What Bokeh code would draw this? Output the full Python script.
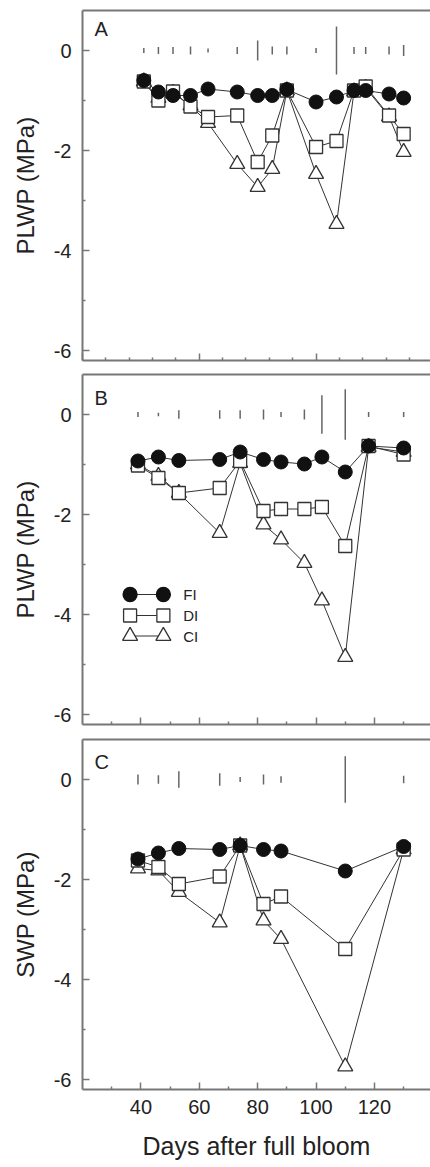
from bokeh.plotting import figure
from bokeh.models import LinearAxis, FixedTicker, Range1d, Label
from bokeh.layouts import column
from bokeh.embed import file_html
from bokeh.resources import INLINE
from bokeh.core.properties import value

# ---------------- data ----------------
series_names = ["FI", "DI", "CI"]

days_a = [41, 46, 51, 57, 63, 73, 80, 85, 90, 100, 107, 113, 117, 125, 130]
fi_a = [-0.60, -0.83, -0.90, -0.90, -0.77, -0.83, -0.90, -0.90, -0.78, -1.03, -0.93, -0.80, -0.80, -0.87, -0.95]
di_a = [-0.62, -1.00, -0.82, -1.12, -1.33, -1.30, -2.23, -1.70, -0.80, -1.93, -1.81, -0.80, -0.72, -1.30, -1.67]
ci_a = [-0.62, -0.95, -0.85, -1.10, -1.45, -2.27, -2.73, -2.37, -0.80, -2.47, -3.47, -0.82, -0.75, -1.32, -2.03]
lsd_a = [0.10, 0.14, 0.14, 0.16, 0.08, 0.14, 0.40, 0.16, 0.16, 0.10, 0.96, 0.14, 0.14, 0.16, 0.22]

days_b = [39, 46, 53, 67, 74, 82, 88, 96, 102, 110, 118, 130]
fi_b = [-0.93, -0.85, -0.92, -0.90, -0.75, -0.90, -0.95, -0.99, -0.85, -1.15, -0.63, -0.67]
di_b = [-1.02, -1.27, -1.57, -1.47, -0.93, -1.93, -1.89, -1.89, -1.85, -2.63, -0.63, -0.80]
ci_b = [-1.00, -1.23, -1.57, -2.37, -0.97, -2.20, -2.50, -2.97, -3.72, -4.85, -0.65, -0.75]
lsd_b = [0.10, 0.07, 0.17, 0.17, 0.17, 0.20, 0.10, 0.20, 0.77, 1.01, 0.10, 0.10]

days_c = [39, 46, 53, 67, 74, 82, 88, 110, 130]
fi_c = [-1.59, -1.47, -1.38, -1.40, -1.32, -1.40, -1.43, -1.83, -1.34]
di_c = [-1.62, -1.75, -2.09, -1.94, -1.32, -2.49, -2.34, -3.39, -1.40]
ci_c = [-1.78, -1.82, -2.25, -2.86, -1.32, -2.82, -3.19, -5.74, -1.40]
lsd_c = [0.20, 0.17, 0.33, 0.25, 0.10, 0.20, 0.13, 0.93, 0.15]

y_ticks = [0, -2, -4, -6]
y_minor = [-1, -3, -5]
x_ticks_a = [20, 60, 100]
x_minor_a = [28, 36, 44, 52, 68, 76, 84, 92, 108, 116, 124, 132]
x_ticks = [40, 60, 80, 100, 120]
x_minor = [30, 50, 70, 90, 110, 130]

# ---------------- style ----------------
FONT = "Liberation Sans"
AX = "#777777"
INK = "#333333"
TXT = "#222222"
W = 430


def panel(days, fi, di, ci, lsd, letter, letter_y, ylabel, height, top, bottom,
          xt, xm, show_x):
    p = figure(width=W, height=height, x_range=Range1d(20, 139.2),
               y_range=Range1d(-6.2, 0.8), output_backend="svg",
               toolbar_location=None, min_border_left=82, min_border_right=0,
               min_border_top=top, min_border_bottom=bottom)
    p.grid.visible = False
    p.outline_line_color = None

    ya = p.yaxis[0]
    ya.ticker = FixedTicker(ticks=y_ticks, minor_ticks=y_minor)
    ya.major_label_overrides = {t: str(t) for t in y_ticks}
    xa = p.xaxis[0]
    xa.ticker = FixedTicker(ticks=xt, minor_ticks=xm)
    for ax in (xa, ya):
        ax.axis_line_color = AX
        ax.axis_line_width = 2
        ax.major_tick_line_color = AX
        ax.minor_tick_line_color = AX
        ax.major_tick_line_width = 1.5
        ax.minor_tick_line_width = 1.5
        ax.major_tick_in = 7
        ax.major_tick_out = 0
        ax.minor_tick_in = 3
        ax.minor_tick_out = 0
        ax.major_label_text_font = FONT
        ax.major_label_text_font_size = "20px"
        ax.major_label_text_color = TXT
        ax.axis_label_text_font = FONT
        ax.axis_label_text_font_style = "normal"
        ax.axis_label_text_font_size = "24px"
        ax.axis_label_text_color = TXT
    ya.major_label_standoff = 11
    ya.axis_label = ylabel
    ya.axis_label_standoff = 12
    if show_x:
        xa.major_label_standoff = 10
        xa.axis_label = "Days after full bloom"
        xa.axis_label_text_font_size = "25px"
        xa.axis_label_standoff = 15
    else:
        xa.major_label_text_color = None
        xa.major_label_standoff = 0

    topax = LinearAxis(ticker=FixedTicker(ticks=[]), axis_line_color=AX,
                       axis_line_width=2, major_label_standoff=0,
                       major_label_text_color=None,
                       major_tick_in=0, major_tick_out=0,
                       minor_tick_in=0, minor_tick_out=0)
    p.add_layout(topax, "above")

    # LSD bars centred on zero
    p.segment(x0=days, x1=days, y0=[-v / 2 for v in lsd], y1=[v / 2 for v in lsd],
              line_color="#666666", line_width=1.5)

    for ys in (ci, di, fi):
        p.line(days, ys, line_color=INK, line_width=1)
    p.scatter(days, ci, marker="triangle", size=15, fill_color="white",
              line_color=INK, line_width=1.3)
    p.scatter(days, di, marker="square", size=13, fill_color="white",
              line_color=INK, line_width=1.3)
    p.scatter(days, fi, marker="circle", size=14, fill_color="#111111",
              line_color="#111111", line_width=1)

    p.add_layout(Label(x=24.1, y=letter_y, text=letter, text_font=FONT,
                       text_font_size="20px", text_color=TXT,
                       text_baseline="middle"))
    return p


pa = panel(days_a, fi_a, di_a, ci_a, lsd_a, "A", 0.44, "PLWP (MPa)", 367, 10, 7,
           x_ticks_a, x_minor_a, False)
pb = panel(days_b, fi_b, di_b, ci_b, lsd_b, "B", 0.33, "PLWP (MPa)", 364, 7, 7,
           x_ticks, x_minor, False)
pc = panel(days_c, fi_c, di_c, ci_c, lsd_c, "C", 0.36, "SWP (MPa)", 434, 8, 76,
           x_ticks, x_minor, True)

# legend drawn in panel B (marker - line - marker, then label)
leg_x0, leg_x1, leg_tx = 36.3, 47.7, 54.5
leg_y = [-3.6, -4.02, -4.43]
markers = ["circle", "square", "triangle"]
fills = ["#111111", "white", "white"]
sizes = [14, 13, 15]
for name, yy, mk, fc, sz in zip(series_names, leg_y, markers, fills, sizes):
    pb.line([leg_x0, leg_x1], [yy, yy], line_color=INK, line_width=1)
    pb.scatter([leg_x0, leg_x1], [yy, yy], marker=mk, size=sz, fill_color=fc,
               line_color=INK if fc == "white" else "#111111", line_width=1.3)
pb.text(x=[leg_tx] * 3, y=leg_y, text=series_names, text_font=value(FONT),
        text_font_size="15px", text_color=TXT, text_baseline="middle",
        text_align="left")

layout = column(pa, pb, pc)
open("out.html", "w").write(file_html(layout, INLINE))
